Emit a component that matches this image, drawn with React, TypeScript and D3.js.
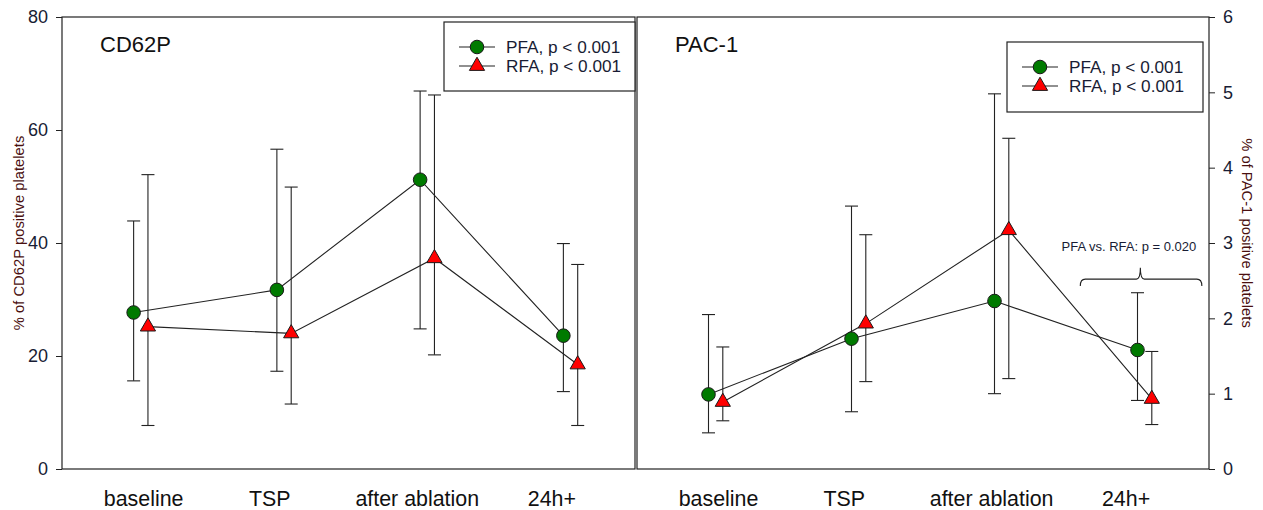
import React, { useEffect, useRef } from 'react';
import * as d3 from 'd3';

// time points
const categories = ['baseline', 'TSP', 'after ablation', '24h+'];
const labelPos = [1.07, 1.95, 2.98, 3.92];

// CD62P (% positive platelets), mean with lower / upper bar ends
const cd62pPfa = [27.7, 31.7, 51.2, 23.6];
const cd62pPfaLo = [15.6, 17.3, 24.8, 13.7];
const cd62pPfaHi = [43.9, 56.6, 66.9, 39.9];
const cd62pRfa = [25.2, 24.0, 37.3, 18.5];
const cd62pRfaLo = [7.7, 11.5, 20.2, 7.7];
const cd62pRfaHi = [52.1, 49.9, 66.2, 36.2];

// PAC-1 (% positive platelets)
const pac1Pfa = [0.99, 1.73, 2.23, 1.58];
const pac1PfaLo = [0.48, 0.76, 1.0, 0.91];
const pac1PfaHi = [2.05, 3.49, 4.98, 2.34];
const pac1Rfa = [0.89, 1.93, 3.17, 0.93];
const pac1RfaLo = [0.64, 1.16, 1.2, 0.59];
const pac1RfaHi = [1.62, 3.11, 4.39, 1.56];

const cd62pTicks = [0, 20, 40, 60, 80];
const pac1Ticks = [0, 1, 2, 3, 4, 5, 6];

const legendLabels = ['PFA, p < 0.001', 'RFA, p < 0.001'];

const FONT = "Arial, 'Liberation Sans', sans-serif";
const INK = '#181c34';

const App = () => {
  const svgRef = useRef<SVGSVGElement>(null);

  useEffect(() => {
    const svg = d3.select(svgRef.current);
    svg.selectAll('*').remove();

    const top = 17;
    const bottom = 469;

    const panels = [
      {
        title: 'CD62P', x0: 62, x1: 635, domain: [0, 80], ticks: cd62pTicks, side: 'left',
        pfa: cd62pPfa, pfaLo: cd62pPfaLo, pfaHi: cd62pPfaHi,
        rfa: cd62pRfa, rfaLo: cd62pRfaLo, rfaHi: cd62pRfaHi,
        yLabel: '% of CD62P positive platelets',
        legend: { x: 444, y: 22, w: 191, h: 69 },
      },
      {
        title: 'PAC-1', x0: 637, x1: 1209, domain: [0, 6], ticks: pac1Ticks, side: 'right',
        pfa: pac1Pfa, pfaLo: pac1PfaLo, pfaHi: pac1PfaHi,
        rfa: pac1Rfa, rfaLo: pac1RfaLo, rfaHi: pac1RfaHi,
        yLabel: '% of PAC-1 positive platelets',
        legend: { x: 1007, y: 42, w: 196, h: 70 },
      },
    ];

    const circle = d3.symbol().type(d3.symbolCircle).size(145);
    const triangle = d3.symbol().type(d3.symbolTriangle).size(100);

    panels.forEach((p) => {
      const x = d3.scaleLinear().domain([0.5, 4.5]).range([p.x0, p.x1]);
      const y = d3.scaleLinear().domain(p.domain).range([bottom, top]);
      const g = svg.append('g');

      g.append('rect')
        .attr('x', p.x0).attr('y', top)
        .attr('width', p.x1 - p.x0).attr('height', bottom - top)
        .attr('fill', 'none').attr('stroke', '#222').attr('stroke-width', 1.2);

      const axis = p.side === 'left'
        ? d3.axisLeft(y).tickValues(p.ticks).tickSize(6).tickPadding(8)
        : d3.axisRight(y).tickValues(p.ticks).tickSize(6).tickPadding(8);
      axis.tickFormat(d3.format('d'));
      const ax = g.append('g')
        .attr('transform', `translate(${p.side === 'left' ? p.x0 : p.x1},0)`)
        .call(axis);
      ax.select('.domain').remove();
      ax.selectAll('line').attr('stroke', '#222');
      ax.selectAll('text')
        .attr('fill', INK)
        .style('font-family', FONT)
        .style('font-size', '18px');

      // y-axis title
      const tx = p.side === 'left' ? 19 : 1247;
      g.append('text')
        .attr('transform', `translate(${tx},${233}) rotate(${p.side === 'left' ? -90 : 90})`)
        .attr('text-anchor', 'middle')
        .attr('dominant-baseline', 'central')
        .attr('fill', '#4a0f0f')
        .style('font-family', FONT)
        .style('font-size', '14.8px')
        .text(p.yLabel);

      // category labels
      g.selectAll('text.cat')
        .data(categories)
        .join('text')
        .attr('class', 'cat')
        .attr('x', (d, i) => x(labelPos[i]))
        .attr('y', 506)
        .attr('text-anchor', 'middle')
        .attr('fill', '#111')
        .style('font-family', FONT)
        .style('font-size', '21.4px')
        .text((d) => d);

      g.append('text')
        .attr('x', p.x0 + 38)
        .attr('y', 52)
        .attr('fill', '#111')
        .style('font-family', FONT)
        .style('font-size', '22px')
        .text(p.title);

      const series = [
        { mean: p.pfa, lo: p.pfaLo, hi: p.pfaHi, off: 0, sym: circle, fill: '#007a00' },
        { mean: p.rfa, lo: p.rfaLo, hi: p.rfaHi, off: 0.1, sym: triangle, fill: '#ff0000' },
      ];

      series.forEach((s) => {
        const xs = (i: number) => x(i + 1 + s.off);
        const eg = g.append('g').attr('stroke', '#222').attr('stroke-width', 1.1);
        s.mean.forEach((m, i) => {
          eg.append('line')
            .attr('x1', xs(i)).attr('x2', xs(i))
            .attr('y1', y(s.lo[i])).attr('y2', y(s.hi[i]));
          [s.lo[i], s.hi[i]].forEach((v) => {
            eg.append('line')
              .attr('x1', xs(i) - 6.5).attr('x2', xs(i) + 6.5)
              .attr('y1', y(v)).attr('y2', y(v));
          });
        });
        const line = d3.line<number>()
          .x((d, i) => xs(i))
          .y((d) => y(d));
        g.append('path')
          .datum(s.mean)
          .attr('d', line)
          .attr('fill', 'none')
          .attr('stroke', '#222')
          .attr('stroke-width', 1.1);
      });

      series.forEach((s) => {
        g.selectAll(null)
          .data(s.mean)
          .join('path')
          .attr('transform', (d, i) => `translate(${x(i + 1 + s.off)},${y(d)})`)
          .attr('d', s.sym())
          .attr('fill', s.fill)
          .attr('stroke', '#1a1a1a')
          .attr('stroke-width', 1);
      });

      // legend
      const lg = g.append('g').attr('transform', `translate(${p.legend.x},${p.legend.y})`);
      lg.append('rect')
        .attr('width', p.legend.w).attr('height', p.legend.h)
        .attr('fill', '#fff').attr('stroke', '#222').attr('stroke-width', 1.2);
      series.forEach((s, i) => {
        const ly = 25 + i * 19;
        lg.append('line')
          .attr('x1', 15).attr('x2', 51).attr('y1', ly).attr('y2', ly)
          .attr('stroke', '#222').attr('stroke-width', 1.1);
        lg.append('path')
          .attr('transform', `translate(33,${ly})`)
          .attr('d', s.sym())
          .attr('fill', s.fill).attr('stroke', '#1a1a1a');
        lg.append('text')
          .attr('x', 62).attr('y', ly)
          .attr('dominant-baseline', 'central')
          .attr('fill', INK)
          .style('font-family', FONT)
          .style('font-size', '17.2px')
          .text(legendLabels[i]);
      });

      if (p.side === 'right') {
        // bracket over 24h+
        const bx0 = x(3.6), bx1 = x(4.45), bc = x(4.02);
        const by = y(2.52), bEnd = y(2.43), bTop = y(2.67);
        g.append('path')
          .attr('d', `M${bx0},${bEnd} Q${bx0},${by} ${bx0 + 5},${by} L${bc - 4},${by} Q${bc},${by} ${bc},${bTop} Q${bc},${by} ${bc + 4},${by} L${bx1 - 5},${by} Q${bx1},${by} ${bx1},${bEnd}`)
          .attr('fill', 'none')
          .attr('stroke', '#222')
          .attr('stroke-width', 1.1);
        g.append('text')
          .attr('x', x(3.94))
          .attr('y', y(2.96))
          .attr('text-anchor', 'middle')
          .attr('dominant-baseline', 'central')
          .attr('fill', INK)
          .style('font-family', FONT)
          .style('font-size', '13px')
          .text('PFA vs. RFA: p = 0.020');
      }
    });
  }, []);

  return (
    <svg
      ref={svgRef}
      width={1263}
      height={510}
      style={{ position: 'absolute', left: 0, top: 0, background: '#fff' }}
    />
  );
};

export default App;
